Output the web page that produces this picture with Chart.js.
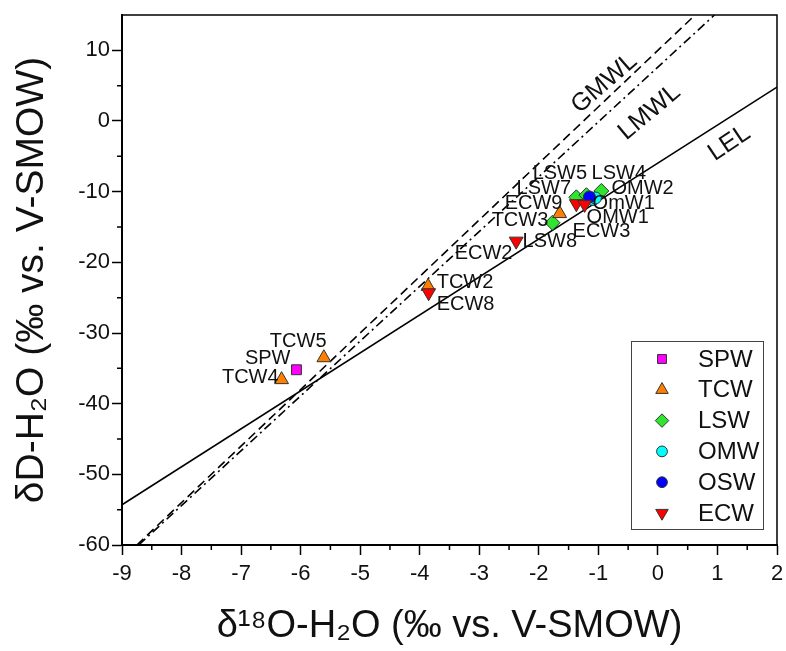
<!DOCTYPE html>
<html><head><meta charset="utf-8">
<script src="https://cdn.jsdelivr.net/npm/chart.js@4"></script>
<style>html,body{margin:0;padding:0;background:#fff}</style>
</head><body>
<canvas id="c" width="786" height="651"></canvas>
<script>
// ---- data ----
const seriesNames = ['SPW', 'TCW', 'LSW', 'OMW', 'OSW', 'ECW'];
const spwX = [-6.07];
const spwY = [-35.2];
const tcwX = [-6.32, -5.61, -3.86, -1.65];
const tcwY = [-36.6, -33.5, -23.4, -13.1];
const lswX = [-1.77, -1.37, -1.20, -0.95];
const lswY = [-14.4, -10.8, -10.5, -9.9];
const omwX = [-1.09, -1.05];
const omwY = [-11.1, -10.9];
const oswX = [-1.15];
const oswY = [-10.75];
const ecwX = [-3.85, -2.38, -1.37, -1.23];
const ecwY = [-24.3, -17.0, -11.7, -11.8];

const lineNames = ['GMWL', 'LMWL', 'LEL'];
const gmwlX = [-8.75, 0.625];
const gmwlY = [-60, 15];
const lmwlX = [-8.72, 0.95];
const lmwlY = [-60, 15];
const lelX = [-9, 2];
const lelY = [-54.3, 4.8];

const xTickValues = [-9, -8, -7, -6, -5, -4, -3, -2, -1, 0, 1, 2];
const yTickValues = [-60, -50, -40, -30, -20, -10, 0, 10];

const sampleLabels = ['LSW5', 'LSW4', 'LSW7', 'OMW2', 'ECW9', 'OmW1', 'TCW3', 'OMW1', 'ECW3', 'LSW8', 'ECW2', 'TCW2', 'ECW8', 'TCW5', 'SPW', 'TCW4'];
const sampleLabelX = [-2.104, -1.114, -2.373, -0.779, -2.574, -1.097, -2.792, -1.198, -1.433, -2.272, -3.413, -3.715, -3.715, -6.517, -6.936, -7.322];
const sampleLabelY = [-7.40, -7.40, -9.52, -9.52, -11.64, -11.64, -14.04, -13.62, -15.60, -17.02, -18.71, -22.81, -25.93, -31.16, -33.56, -36.25];

const lineLabelX = [-0.90, -0.14, 1.20];
const lineLabelY = [5.33, 1.23, -3.15];

// ---- helpers ----
const pts = (xs, ys) => xs.map((v, i) => ({x: v, y: ys[i]}));
const FONT = '"Liberation Sans", Arial, Helvetica, sans-serif';

const markerStyles = [
  {pointStyle: 'rect', radius: 7, rotation: 0, color: '#ff00ff', order: 2},
  {pointStyle: 'triangle', radius: 8, rotation: 0, color: '#ff7f00', order: 2},
  {pointStyle: 'rectRot', radius: 7.5, rotation: 0, color: '#2ee62e', order: 5},
  {pointStyle: 'circle', radius: 6, rotation: 0, color: '#00ffff', order: 4},
  {pointStyle: 'circle', radius: 6, rotation: 0, color: '#0000ff', order: 3},
  {pointStyle: 'triangle', radius: 8, rotation: 180, color: '#ff0000', order: 1}
];
const seriesData = [pts(spwX, spwY), pts(tcwX, tcwY), pts(lswX, lswY), pts(omwX, omwY), pts(oswX, oswY), pts(ecwX, ecwY)];

const datasets = seriesNames.map((n, i) => ({
  label: n,
  data: seriesData[i],
  pointStyle: markerStyles[i].pointStyle,
  pointRadius: markerStyles[i].radius,
  pointHoverRadius: markerStyles[i].radius,
  rotation: markerStyles[i].rotation,
  backgroundColor: markerStyles[i].color,
  borderColor: '#333',
  borderWidth: 1,
  order: markerStyles[i].order
}));
const lineData = [pts(gmwlX, gmwlY), pts(lmwlX, lmwlY), pts(lelX, lelY)];
const lineDash = [[9, 5], [9, 4, 2, 4], []];
lineNames.forEach((n, i) => datasets.push({
  label: n,
  data: lineData[i],
  showLine: true,
  pointRadius: 0,
  borderColor: '#000',
  borderWidth: 1.6,
  borderDash: lineDash[i],
  order: 10
}));

const xMinor = xTickValues.slice(0, -1).map((v, i) => (v + xTickValues[i + 1]) / 2);
const yMinor = yTickValues.map(v => v + 5).filter(v => v < 15);

const decor = {
  id: 'decor',
  afterDraw(chart) {
    const {ctx, chartArea: a, scales: {x, y}} = chart;
    ctx.save();
    ctx.strokeStyle = '#000';
    ctx.lineWidth = 1.5;
    ctx.beginPath();
    ctx.moveTo(a.left, a.top); ctx.lineTo(a.right, a.top); ctx.lineTo(a.right, a.bottom);
    ctx.stroke();
    // minor ticks
    ctx.beginPath();
    xMinor.forEach(v => { const p = x.getPixelForValue(v); ctx.moveTo(p, a.bottom); ctx.lineTo(p, a.bottom + 5); });
    yMinor.forEach(v => { const p = y.getPixelForValue(v); ctx.moveTo(a.left, p); ctx.lineTo(a.left - 5, p); });
    ctx.stroke();
    // sample labels
    ctx.fillStyle = '#111';
    ctx.font = '20px ' + FONT;
    ctx.textAlign = 'left';
    ctx.textBaseline = 'middle';
    sampleLabels.forEach((t, i) => {
      ctx.fillText(t, x.getPixelForValue(sampleLabelX[i]), y.getPixelForValue(sampleLabelY[i]));
    });
    // line labels
    const rots = [-41, -40, -34];
    ctx.font = '25px ' + FONT;
    ctx.textAlign = 'center';
    lineNames.forEach((t, i) => {
      ctx.save();
      ctx.translate(x.getPixelForValue(lineLabelX[i]), y.getPixelForValue(lineLabelY[i]));
      ctx.rotate(rots[i] * Math.PI / 180);
      ctx.fillText(t, 0, 0);
      ctx.restore();
    });
    // legend
    const bw = 132, bh = 188;
    const bx = a.right - 14 - bw, by = a.bottom - 16 - bh;
    ctx.fillStyle = '#fff';
    ctx.fillRect(bx, by, bw, bh);
    ctx.strokeStyle = '#444';
    ctx.lineWidth = 1;
    ctx.strokeRect(bx + 0.5, by + 0.5, bw, bh);
    ctx.font = '24px ' + FONT;
    ctx.textAlign = 'left';
    ctx.textBaseline = 'middle';
    seriesNames.forEach((n, i) => {
      const cy = by + 18 + i * 30.8;
      const cx = bx + 31;
      const m = markerStyles[i];
      ctx.fillStyle = m.color;
      ctx.strokeStyle = '#333';
      ctx.lineWidth = 1;
      const r = m.radius * 0.9;
      if (Chart.helpers && Chart.helpers.drawPoint) {
        Chart.helpers.drawPoint(ctx, {pointStyle: m.pointStyle, rotation: m.rotation, radius: r, borderWidth: 1}, cx, cy);
      }
      ctx.fillStyle = '#111';
      ctx.fillText(n, bx + 67, cy + 1);
    });
    ctx.restore();
  }
};

new Chart(document.getElementById('c'), {
  type: 'scatter',
  data: {datasets},
  options: {
    responsive: false,
    animation: false,
    devicePixelRatio: 1,
    layout: {padding: {top: 15, right: 8, left: 0, bottom: 0}},
    plugins: {legend: {display: false}, tooltip: {enabled: false}},
    scales: {
      x: {
        type: 'linear', min: -9, max: 2,
        afterFit: s => { s.height = 106; s.paddingLeft = 0; s.paddingRight = 0; },
        afterBuildTicks: s => { s.ticks = xTickValues.map(v => ({value: v})); },
        ticks: {stepSize: 1, includeBounds: false, autoSkip: false, maxRotation: 0, padding: 6,
                color: '#111', font: {family: FONT, size: 22}},
        grid: {drawOnChartArea: false, drawTicks: true, tickLength: 10, tickWidth: 1.5, tickColor: '#000'},
        border: {display: true, color: '#000', width: 2},
        title: {display: true, text: 'δ¹⁸O-H₂O (‰ vs. V-SMOW)', color: '#111',
                font: {family: FONT, size: 38}, padding: {top: 0, bottom: 2}}
      },
      y: {
        type: 'linear', min: -60, max: 15,
        afterFit: s => { s.width = 122; s.paddingTop = 0; s.paddingBottom = 0; },
        afterBuildTicks: s => { s.ticks = yTickValues.map(v => ({value: v})); },
        ticks: {stepSize: 10, includeBounds: false, autoSkip: false, padding: 2,
                color: '#111', font: {family: FONT, size: 22}},
        grid: {drawOnChartArea: false, drawTicks: true, tickLength: 10, tickWidth: 1.5, tickColor: '#000'},
        border: {display: true, color: '#000', width: 2},
        title: {display: true, text: 'δD-H₂O (‰ vs. V-SMOW)', color: '#111',
                font: {family: FONT, size: 39}, padding: {top: 9, bottom: 0}}
      }
    }
  },
  plugins: [decor]
});
</script>
</body></html>
